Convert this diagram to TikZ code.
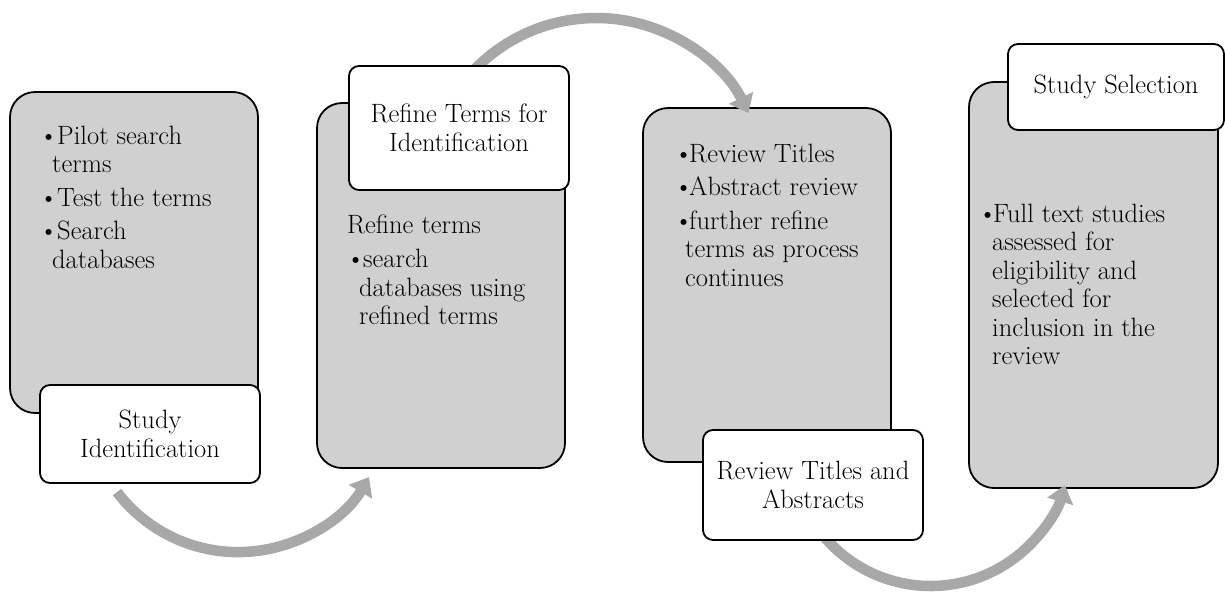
\documentclass[tikz,border=0pt]{standalone}
\usetikzlibrary{arrows.meta}
\definecolor{boxgray}{RGB}{208,208,208}
\definecolor{arrowgray}{RGB}{168,168,168}
% bullet set in a box of the given width (pt)
\newcommand\blt[1]{\makebox[#1pt][l]{\textbullet}}
\begin{document}
\begin{tikzpicture}[x=1pt,y=1pt,
  stage/.style={draw=black, line width=1.8pt, fill=boxgray, rounded corners=25pt, inner sep=0pt},
  tag/.style={draw=black, line width=1.8pt, fill=white, rounded corners=10pt,
    align=center, inner sep=0pt, font=\fontsize{26.5}{29}\selectfont},
  flow/.style={draw=arrowgray, line width=10.5pt, -{Triangle[width=26pt,length=17pt]}},
  body/.style={font=\fontsize{26.5}{28.5}\selectfont, inner sep=0pt, align=left, anchor=north west}]

\fill[white] (0,0) rectangle (1225,-592);
\useasboundingbox (0,0) rectangle (1225,-592);

% grey stage panels
\node[stage, minimum width=248pt, minimum height=321pt] (g1) at (134,-252.5) {};
\node[stage, minimum width=248pt, minimum height=365pt] (g2) at (441,-285.5) {};
\node[stage, minimum width=248pt, minimum height=354pt] (g3) at (767,-285) {};
\node[stage, minimum width=249pt, minimum height=406pt] (g4) at (1093.5,-285) {};

% panel contents
\node[body] (b1) at (39,-125.6) {%
  \blt{18}Pilot search\\
  \hspace*{13pt}terms\\[5pt]
  \blt{18}Test the terms\\[5pt]
  \blt{18}Search\\
  \hspace*{13pt}databases};
\node[body] (b2) at (347,-214.6) {%
  Refine terms\\[6pt]
  \hspace*{-1pt}\blt{17}search\\
  \hspace*{12pt}databases using\\
  \hspace*{12pt}refined terms};
\node[body] (b3) at (674,-143.6) {%
  \blt{15}Review Titles\\[5pt]
  \blt{15}Abstract review\\[5pt]
  \blt{15}further refine\\
  \hspace*{11pt}terms as process\\
  \hspace*{11pt}continues};
\node[body] (b4) at (978,-203.6) {%
  \blt{15}Full text studies\\
  \hspace*{14pt}assessed for\\
  \hspace*{14pt}eligibility and\\
  \hspace*{14pt}selected for\\
  \hspace*{14pt}inclusion in the\\
  \hspace*{14pt}review};

% curved arrows between stages
\coordinate (c1) at (238,-400.2);
\coordinate (c2) at (596.2,-187.4);
\coordinate (c3) at (930.7,-446.3);
\draw[flow] ([shift={(217.2:151.9)}]c1) arc[start angle=217.2, end angle=329.6, radius=151.9];
\draw[flow] ([shift={(137:169.4)}]c2) arc[start angle=137, end angle=26, radius=169.4];
\draw[flow] ([shift={(220:139.7)}]c3) arc[start angle=220, end angle=343.9, radius=139.7];

% white stage labels
\node[tag, minimum width=220pt, minimum height=98pt] (t1) at (150,-434) {Study\\Identification};
\node[tag, minimum width=220pt, minimum height=124pt] (t2) at (459,-128) {Refine Terms for\\Identification};
\node[tag, minimum width=220pt, minimum height=110pt] (t3) at (813,-485) {Review Titles and\\Abstracts};
\node[tag, minimum width=216pt, minimum height=86pt] (t4) at (1116,-87) {Study Selection};
\end{tikzpicture}
\end{document}
